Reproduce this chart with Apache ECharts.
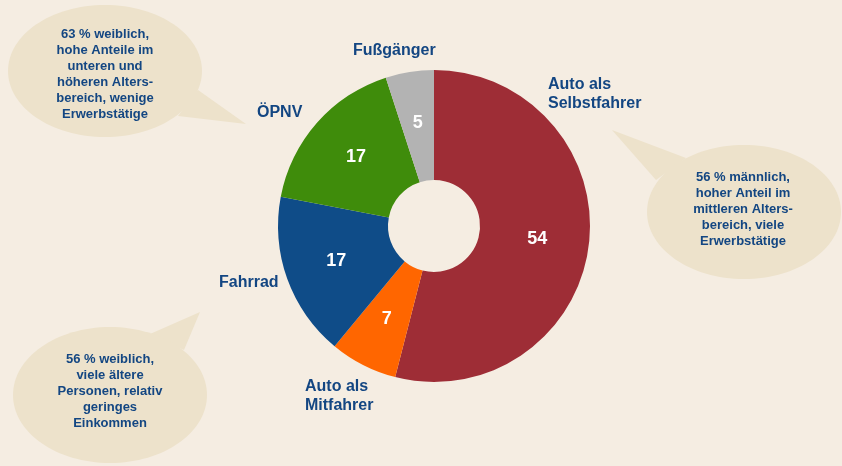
<!DOCTYPE html>
<html>
<head>
<meta charset="utf-8">
<script src="https://cdn.jsdelivr.net/npm/echarts@6/dist/echarts.min.js"></script>
<style>
  html, body { margin: 0; padding: 0; background: #f5ede2; }
  #chart { width: 842px; height: 466px; }
</style>
</head>
<body>
<div id="chart"></div>
<script>
// Verkehrsmittelwahl (Anteile in %)
const categories = ['Auto als Selbstfahrer', 'Auto als Mitfahrer', 'Fahrrad', 'ÖPNV', 'Fußgänger'];
const shares = [54, 7, 17, 17, 5];
const labelTexts = ['Auto als\nSelbstfahrer', 'Auto als\nMitfahrer', 'Fahrrad', 'ÖPNV', 'Fußgänger'];
const bubbleTexts = [
  '63 % weiblich,\nhohe Anteile im\nunteren und\nhöheren Alters-\nbereich, wenige\nErwerbstätige',
  '56 % männlich,\nhoher Anteil im\nmittleren Alters-\nbereich, viele\nErwerbstätige',
  '56 % weiblich,\nviele ältere\nPersonen, relativ\ngeringes\nEinkommen'
];

const sliceColors = ['#9e2d36', '#ff6600', '#0f4c88', '#3f8c0b', '#b3b3b3'];
const textColor = '#134682';
const bubbleColor = '#ede2cb';
const font = '"Liberation Sans", Arial, sans-serif';

// label positions outside the ring
const outsidePos = [
  { x: 548, y: 94 },
  { x: 305, y: 396 },
  { x: 219, y: 283 },
  { x: 257, y: 113 },
  { x: 353, y: 51 }
];

// bubbles: ellipse + tail
const bubbles = [
  { cx: 105, cy: 71, rx: 97, ry: 66, tail: [[198, 90], [246, 124], [178, 116]], tx: 105, ty: 74 },
  { cx: 744, cy: 212, rx: 97, ry: 67, tail: [[612, 130], [686, 158], [656, 180]], tx: 743, ty: 209 },
  { cx: 110, cy: 395, rx: 97, ry: 68, tail: [[150, 334], [200, 312], [184, 350]], tx: 110, ty: 391 }
];

const graphics = [];
bubbles.forEach((b, i) => {
  graphics.push({ type: 'polygon', shape: { points: b.tail }, style: { fill: bubbleColor }, z: 1 });
  graphics.push({ type: 'ellipse', shape: { cx: b.cx, cy: b.cy, rx: b.rx, ry: b.ry }, style: { fill: bubbleColor }, z: 1 });
  graphics.push({
    type: 'text', x: b.tx, y: b.ty, z: 2,
    style: {
      text: bubbleTexts[i], fill: textColor, font: 'bold 13px ' + font,
      align: 'center', verticalAlign: 'middle', lineHeight: 16
    }
  });
});

const chart = echarts.init(document.getElementById('chart'));
chart.setOption({
  backgroundColor: '#f5ede2',
  animation: false,
  graphic: graphics,
  series: [
    {
      type: 'pie',
      center: [434, 226],
      radius: [46, 156],
      startAngle: 90,
      clockwise: true,
      silent: true,
      itemStyle: { borderWidth: 0 },
      label: {
        show: true, position: 'inside', color: '#fff',
        fontWeight: 'bold', fontSize: 18, fontFamily: font,
        formatter: '{c}'
      },
      labelLine: { show: false },
      data: categories.map((c, i) => ({ name: c, value: shares[i], itemStyle: { color: sliceColors[i] } }))
    },
    {
      type: 'pie',
      center: [434, 226],
      radius: [46, 156],
      startAngle: 90,
      clockwise: true,
      silent: true,
      itemStyle: { color: 'transparent', borderWidth: 0 },
      label: {
        show: true, position: 'outside', color: textColor,
        fontWeight: 'bold', fontSize: 16, fontFamily: font, lineHeight: 19,
        formatter: p => labelTexts[p.dataIndex]
      },
      labelLine: { show: false },
      labelLayout: p => ({
        x: outsidePos[p.dataIndex].x,
        y: outsidePos[p.dataIndex].y,
        align: 'left',
        verticalAlign: 'middle',
        hideOverlap: false
      }),
      data: categories.map((c, i) => ({ name: c, value: shares[i] }))
    }
  ]
});
</script>
</body>
</html>
